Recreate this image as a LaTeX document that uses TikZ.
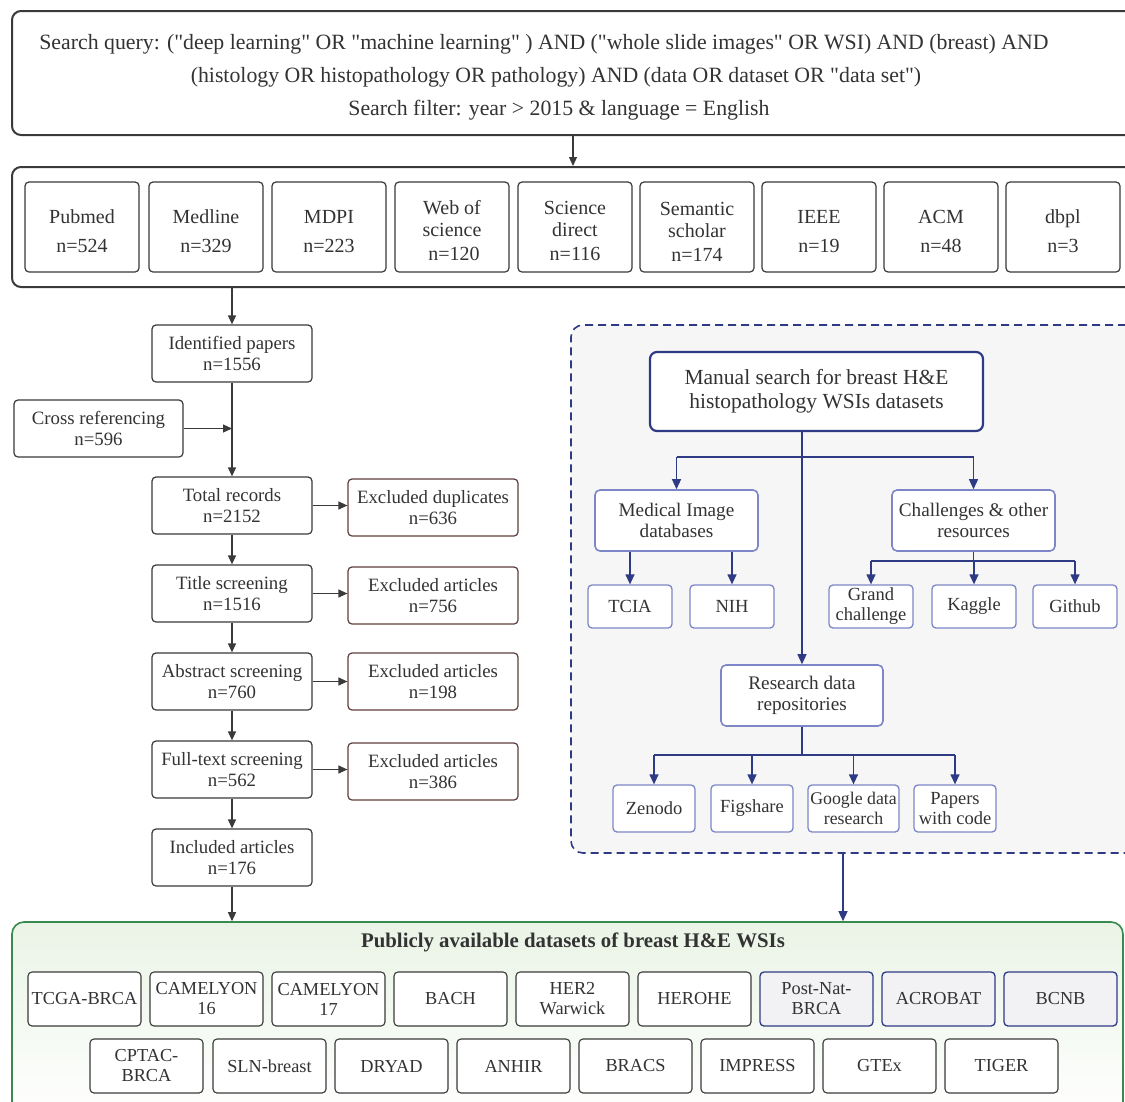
\documentclass[tikz,border=0pt]{standalone}
\usepackage{fontspec}
\setmainfont{Liberation Serif}[Ligatures=TeXOff]
\usetikzlibrary{arrows.meta}
\definecolor{txt}{HTML}{333333}
\definecolor{gline}{HTML}{3A3A3A}
\definecolor{navy}{HTML}{2F3A85}
\definecolor{peri}{HTML}{7D87C8}
\definecolor{exc}{HTML}{5E3C3C}
\definecolor{grn}{HTML}{3A8A50}
\definecolor{grnf}{HTML}{EAF4E6}
\definecolor{panelf}{HTML}{F6F6F6}
\definecolor{hifill}{HTML}{F2F2F4}
\newcommand\bx[7]{\node[#2, minimum width=#5pt, minimum height=#6pt] (#1) at ({#3+#5/2},{#4+#6/2}) {#7};}
\newcommand\tallst{\rule{0pt}{22pt}}
\begin{document}
\begin{tikzpicture}[x=1pt,y=-1pt,
  every node/.style={text=txt, font=\fontsize{18.8}{21}\selectfont, align=center, inner sep=0pt},
  bigframe/.style={draw=gline, line width=2pt, rounded corners=9pt, fill=white},
  gbox/.style={draw=gline, line width=1.2pt, rounded corners=4pt, fill=white},
  srcbox/.style={gbox, font=\fontsize{20}{22}\selectfont},
  ebox/.style={draw=exc, line width=1.2pt, rounded corners=4pt, fill=white},
  sbox/.style={draw=peri, line width=1.3pt, rounded corners=4pt, fill=white, font=\fontsize{18.5}{20}\selectfont},
  mbox/.style={draw=peri, line width=1.6pt, rounded corners=5pt, fill=white, font=\fontsize{19.2}{21}\selectfont},
  manbox/.style={draw=navy, line width=2.2pt, rounded corners=7pt, fill=white, font=\fontsize{21.5}{24}\selectfont},
  dbox/.style={draw=gline, line width=1.1pt, rounded corners=4pt, fill=white, font=\fontsize{18.3}{20}\selectfont},
  hbox/.style={draw=navy, line width=1.3pt, rounded corners=4pt, fill=hifill, font=\fontsize{18.3}{20}\selectfont},
  garr/.style={draw=gline, line width=1.2pt, -{Triangle[length=9pt,width=8pt]}},
  bline/.style={draw=navy, line width=1.3pt},
  barr/.style={draw=navy, line width=1.3pt, -{Triangle[length=10pt,width=9pt]}},
]
\useasboundingbox (0,0) rectangle (1125,1101);
\clip (0,0) rectangle (1125,1101);
\fill[white] (0,0) rectangle (1125,1101);

% top search query
\bx{top}{bigframe}{12}{11}{1140}{124}{}
\node[font=\fontsize{21.8}{33}\selectfont] (query) at (544,77) {Search query: ("deep learning" OR "machine learning" ) AND ("whole slide images" OR WSI) AND (breast) AND\\\hspace*{24pt}(histology OR histopathology OR pathology) AND (data OR dataset OR "data set")\\\hspace*{30pt}Search filter: year > 2015 \& language = English};

% sources
\bx{src}{bigframe}{12}{167}{1140}{120}{}
\bx{pubmed}{srcbox}{25}{182}{114}{90}{\tallst Pubmed\\[7pt]n=524}
\bx{medline}{srcbox}{149}{182}{114}{90}{\tallst Medline\\[7pt]n=329}
\bx{mdpi}{srcbox}{272}{182}{114}{90}{\tallst MDPI\\[7pt]n=223}
\bx{wos}{srcbox}{395}{182}{114}{90}{\tallst Web of\\science\\[2pt]\hspace*{4pt}n=120}
\bx{sd}{srcbox}{518}{182}{114}{90}{\tallst Science\\direct\\[2pt]n=116}
\bx{sem}{srcbox}{640}{182}{114}{90}{\tallst Semantic\\scholar\\[2pt]n=174}
\bx{ieee}{srcbox}{762}{182}{114}{90}{\tallst IEEE\\[7pt]n=19}
\bx{acm}{srcbox}{884}{182}{114}{90}{\tallst ACM\\[7pt]n=48}
\bx{dbpl}{srcbox}{1006}{182}{114}{90}{\tallst dbpl\\[7pt]n=3}
\coordinate (xa) at (573,0);
\draw[garr] (top.south -| xa) -- (src.north -| xa);

% left column
\bx{ident}{gbox}{152}{325}{160}{57}{Identified papers\\n=1556}
\bx{cross}{gbox}{14}{400}{169}{57}{Cross referencing\\n=596}
\bx{total}{gbox}{152}{477}{160}{57}{Total records\\n=2152}
\bx{exdup}{ebox}{348}{479}{170}{57}{Excluded duplicates\\n=636}
\bx{title}{gbox}{152}{565}{160}{57}{Title screening\\n=1516}
\bx{ex1}{ebox}{348}{567}{170}{57}{Excluded articles\\n=756}
\bx{abs}{gbox}{152}{653}{160}{57}{Abstract screening\\n=760}
\bx{ex2}{ebox}{348}{653}{170}{57}{Excluded articles\\n=198}
\bx{full}{gbox}{152}{741}{160}{57}{Full-text screening\\n=562}
\bx{ex3}{ebox}{348}{743}{170}{57}{Excluded articles\\n=386}
\bx{incl}{gbox}{152}{829}{160}{57}{Included articles\\n=176}

\draw[garr] (src.south -| ident.north) -- (ident.north);
\draw[garr] (ident.south) -- (total.north);
\draw[garr] (cross.east) -- (cross.east -| ident.south);
\draw[garr] (total.east) -- (total.east -| exdup.west);
\draw[garr] (total.south) -- (title.north);
\draw[garr] (title.east) -- (title.east -| ex1.west);
\draw[garr] (title.south) -- (abs.north);
\draw[garr] (abs.east) -- (abs.east -| ex2.west);
\draw[garr] (abs.south) -- (full.north);
\draw[garr] (full.east) -- (full.east -| ex3.west);
\draw[garr] (full.south) -- (incl.north);

% manual search panel
\bx{panel}{draw=navy, line width=1.6pt, dash pattern=on 8pt off 5pt, rounded corners=12pt, fill=panelf}{571}{325}{580}{528}{}
\bx{manual}{manbox}{650}{352}{333}{79}{Manual search for breast H\&E\\histopathology WSIs datasets}
\bx{med}{mbox}{595}{490}{163}{61}{Medical Image\\databases}
\bx{chal}{mbox}{892}{490}{163}{61}{Challenges \& other\\resources}
\bx{tcia}{sbox}{588}{585}{84}{43}{TCIA}
\bx{nih}{sbox}{690}{585}{84}{43}{NIH}
\bx{grand}{sbox}{829}{585}{84}{43}{Grand\\challenge}
\bx{kaggle}{sbox}{932}{585}{84}{43}{Kaggle}
\bx{github}{sbox}{1033}{585}{84}{43}{Github}
\bx{research}{mbox}{721}{665}{162}{61}{Research data\\repositories}
\bx{zenodo}{sbox}{613}{785}{82}{47}{Zenodo}
\bx{figshare}{sbox}{711}{785}{82}{47}{Figshare}
\bx{google}{sbox, font=\fontsize{17.8}{20}\selectfont}{808}{785}{91}{47}{Google data\\research}
\bx{papers}{sbox}{914}{785}{82}{47}{Papers\\with code}

\coordinate (by1) at (0,457);
\coordinate (by2) at (0,561);
\coordinate (by3) at (0,755);
\draw[barr] (manual.south -| research.north) -- (research.north);
\draw[bline] (med.north |- by1) -- (chal.north |- by1);
\draw[barr] (med.north |- by1) -- (med.north);
\draw[barr] (chal.north |- by1) -- (chal.north);
\draw[barr] (med.south -| tcia.north) -- (tcia.north);
\draw[barr] (med.south -| nih.north) -- (nih.north);
\draw[bline] (chal.south) -- (chal.south |- by2);
\draw[bline] (grand.north |- by2) -- (github.north |- by2);
\draw[barr] (grand.north |- by2) -- (grand.north);
\draw[barr] (kaggle.north |- by2) -- (kaggle.north);
\draw[barr] (github.north |- by2) -- (github.north);
\draw[bline] (research.south) -- (research.south |- by3);
\draw[bline] (zenodo.north |- by3) -- (papers.north |- by3);
\draw[barr] (zenodo.north |- by3) -- (zenodo.north);
\draw[barr] (figshare.north |- by3) -- (figshare.north);
\draw[barr] (google.north |- by3) -- (google.north);
\draw[barr] (papers.north |- by3) -- (papers.north);

% public datasets
\bx{pub}{draw=grn, line width=1.6pt, rounded corners=12pt, top color=grnf, bottom color=white}{12}{922}{1111}{200}{}
\node[font=\fontsize{20.8}{23}\selectfont\bfseries] (pubtitle) at (573,942) {Publicly available datasets of breast H\&E WSIs};
\coordinate (xb) at (843,0);
\draw[barr] (panel.south -| xb) -- (pub.north -| xb);
\draw[garr] (incl.south) -- (incl.south |- pub.north);

\bx{d1}{dbox}{28}{972}{113}{54}{TCGA-BRCA}
\bx{d2}{dbox}{150}{972}{113}{54}{CAMELYON\\16}
\bx{d3}{dbox}{272}{972}{113}{54}{CAMELYON\\17}
\bx{d4}{dbox}{394}{972}{113}{54}{BACH}
\bx{d5}{dbox}{516}{972}{113}{54}{HER2\\Warwick}
\bx{d6}{dbox}{638}{972}{113}{54}{HEROHE}
\bx{d7}{hbox}{760}{972}{113}{54}{Post-Nat-\\BRCA}
\bx{d8}{hbox}{882}{972}{113}{54}{ACROBAT}
\bx{d9}{hbox}{1004}{972}{113}{54}{BCNB}
\bx{e1}{dbox}{90}{1039}{113}{54}{CPTAC-\\BRCA}
\bx{e2}{dbox}{213}{1039}{113}{54}{SLN-breast}
\bx{e3}{dbox}{335}{1039}{113}{54}{DRYAD}
\bx{e4}{dbox}{457}{1039}{113}{54}{ANHIR}
\bx{e5}{dbox}{579}{1039}{113}{54}{BRACS}
\bx{e6}{dbox}{701}{1039}{113}{54}{IMPRESS}
\bx{e7}{dbox}{823}{1039}{113}{54}{GTEx}
\bx{e8}{dbox}{945}{1039}{113}{54}{TIGER}
\end{tikzpicture}
\end{document}
